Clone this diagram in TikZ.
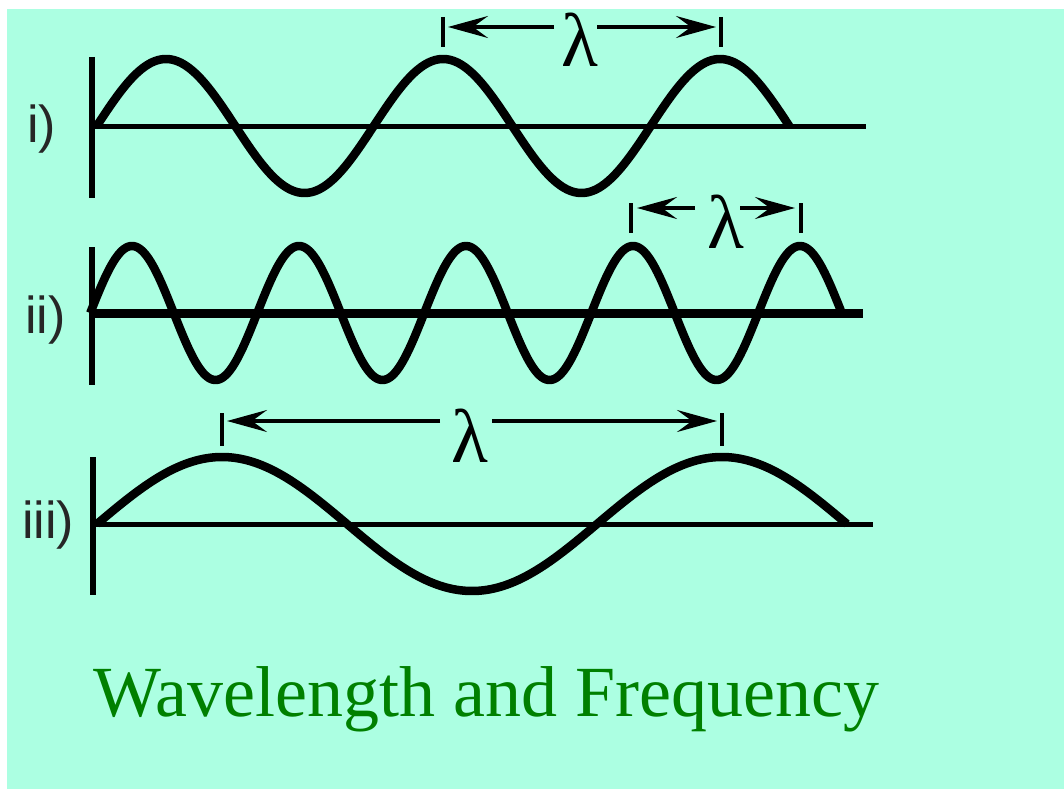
\documentclass[tikz,border=0pt]{standalone}
\usepackage{fontspec}
\setmainfont{Liberation Serif}
\newfontfamily\labelfont{Liberation Sans}
\usetikzlibrary{arrows.meta}
\definecolor{bgaqua}{RGB}{172,255,226}
\definecolor{titlegreen}{RGB}{0,128,0}
\begin{document}
\begin{tikzpicture}[x=1pt,y=-1pt,
  wave/.style={line width=8.5pt, line join=round},
  vaxis/.style={line width=6pt},
  haxis/.style={line width=5pt},
  tickline/.style={line width=3.5pt},
  dimarrow/.style={line width=3.5pt, -{Stealth[length=40pt,width=22pt,inset=15pt]}},
  lbl/.style={font=\labelfont\fontsize{52}{52}\selectfont, text=black!85, anchor=base west, inner sep=0pt},
  lam/.style={font=\fontsize{76}{76}\selectfont, inner sep=0pt}]
\fill[white] (0,0) rectangle (1064,789);
\fill[bgaqua] (7,9) rectangle (1064,789);
\useasboundingbox (0,0) rectangle (1064,789);

% ---------- i)
\node[lbl] (li) at (27,142) {i)};
\draw[vaxis] (92,57) -- (92,198);
\draw[haxis] (92,126) -- (866,126);
\draw[wave] plot[domain=96.75:789.25, samples=300] (\x,{126-67*sin(((\x-96.75)/277)*360)});
\coordinate (t1a) at (443,17); \coordinate (t1b) at (443,47);
\coordinate (t1c) at (721,17); \coordinate (t1d) at (721,47);
\draw[tickline] (t1a) -- (t1b);
\draw[tickline] (t1c) -- (t1d);
\node[lam] (lam1) at (580,40) {λ};
\coordinate (a1s) at (554,27); \coordinate (a1t) at (448,27);
\coordinate (a1u) at (597,27); \coordinate (a1v) at (716,27);
\draw[dimarrow] (a1s) -- (a1t);
\draw[dimarrow] (a1u) -- (a1v);

% ---------- ii)
\node[lbl] (lii) at (25,333) {ii)};
\draw[vaxis] (92,247) -- (92,385);
\draw[line width=9pt] (92,313) -- (863,313);
\draw[wave] plot[domain=90.25:842, samples=400] (\x,{313-67*sin(((\x-90.25)/167)*360)});
\coordinate (t2a) at (631,203); \coordinate (t2b) at (631,233);
\coordinate (t2c) at (801,203); \coordinate (t2d) at (801,233);
\draw[tickline] (t2a) -- (t2b);
\draw[tickline] (t2c) -- (t2d);
\node[lam] (lam2) at (726,222) {λ};
\coordinate (a2s) at (695,208); \coordinate (a2t) at (637,208);
\coordinate (a2u) at (740,208); \coordinate (a2v) at (795,208);
\draw[dimarrow] (a2s) -- (a2t);
\draw[dimarrow] (a2u) -- (a2v);

% ---------- iii)
\node[lbl] (liii) at (22,538) {iii)};
\draw[vaxis] (93,457) -- (93,595);
\draw[haxis] (93,524) -- (873,524);
\draw[wave] plot[domain=97:847, samples=300] (\x,{524-67*sin(((\x-97)/500)*360)});
\coordinate (t3a) at (222,413); \coordinate (t3b) at (222,446);
\coordinate (t3c) at (722,413); \coordinate (t3d) at (722,446);
\draw[tickline] (t3a) -- (t3b);
\draw[tickline] (t3c) -- (t3d);
\node[lam] (lam3) at (470,436) {λ};
\coordinate (a3s) at (440,421); \coordinate (a3t) at (227,421);
\coordinate (a3u) at (492,421); \coordinate (a3v) at (717,421);
\draw[dimarrow] (a3s) -- (a3t);
\draw[dimarrow] (a3u) -- (a3v);

% ---------- title
\node[anchor=base west, inner sep=0pt, text=titlegreen, font=\fontsize{72}{72}\selectfont] (title) at (93,716) {Wavelength and Frequency};
\end{tikzpicture}
\end{document}
